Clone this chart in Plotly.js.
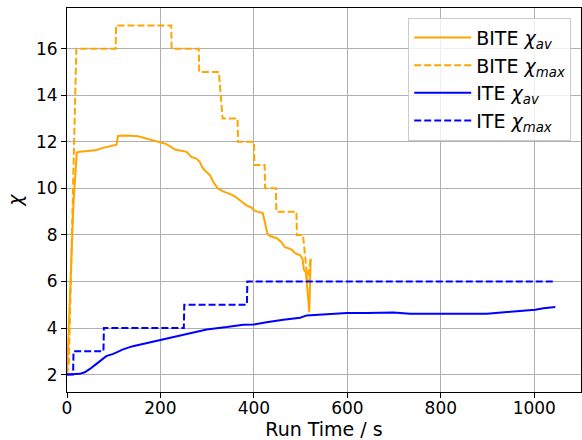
<!DOCTYPE html>
<html>
<head>
<meta charset="utf-8">
<script src="https://cdn.plot.ly/plotly-3.0.1.min.js"></script>
<style>html,body{margin:0;padding:0;background:#fff;}#chart{width:582px;height:440px;}</style>
</head>
<body>
<div id="chart"></div>
<script>
// BITE chi_av (run time in s, chi)
const biteAvT = [0,14,21,27,45,63,77,91,106,109,124,152,170,184,199,213,231,249,256,266,277,284,291,306,313,323,334,349,359,370,384,395,402,419,424,429,434,449,459,466,481,488,499,504,507,511,513,518.5,521.5];
const biteAv  = [2,9.4,11.54,11.57,11.61,11.65,11.74,11.82,11.88,12.25,12.27,12.24,12.14,12.04,11.98,11.9,11.67,11.61,11.57,11.35,11.28,11.14,10.85,10.56,10.27,9.99,9.87,9.75,9.66,9.49,9.27,9.17,9.03,8.94,8.48,8.05,7.95,7.86,7.69,7.48,7.37,7.22,7.12,6.98,6.5,6.4,6.0,4.68,6.98];
// BITE chi_max
const biteMaxT = [0,4,20,104,105,223,224,282,283,325,329,333,365,366,400,401,423,424,447,448,491,492,505,510,515,521.5];
const biteMax  = [2,2.5,16,16,17,17,16,16,15,15,14,13,13,12,12,11,11,10,10,9,9,8,8,7,6,7];
// ITE chi_av
const iteAvT = [0,27,38,49,63,74,84,99,120,141,163,199,242,270,299,342,377,400,427,463,499,513,556,599,642,699,734,770,820,899,956,1002,1020,1045];
const iteAv  = [2,2.03,2.1,2.24,2.46,2.65,2.79,2.89,3.08,3.22,3.32,3.46,3.65,3.79,3.94,4.04,4.14,4.15,4.25,4.35,4.44,4.54,4.58,4.64,4.64,4.67,4.61,4.61,4.6,4.61,4.71,4.78,4.85,4.9];
// ITE chi_max
const iteMaxT = [0,13,14,78,79,250,251,385,386,1043];
const iteMax  = [2,2,3,3,4,4,5,5,6,6];

const names = ['BITE <i>χ</i><sub><i>av</i></sub>','BITE <i>χ</i><sub><i>max</i></sub>','ITE <i>χ</i><sub><i>av</i></sub>','ITE <i>χ</i><sub><i>max</i></sub>'];
const xTicks = [0,200,400,600,800,1000];
const yTicks = [2,4,6,8,10,12,14,16];

const font = 'DejaVu Sans, sans-serif';
const traces = [
  {x: biteAvT, y: biteAv, name: names[0], mode:'lines', line:{color:'#FFA500', width:2}},
  {x: biteMaxT, y: biteMax, name: names[1], mode:'lines', line:{color:'#FFA500', width:2, dash:'7px,3px'}},
  {x: iteAvT, y: iteAv, name: names[2], mode:'lines', line:{color:'#0000FF', width:2}},
  {x: iteMaxT, y: iteMax, name: names[3], mode:'lines', line:{color:'#0000FF', width:2, dash:'7px,3px'}}
];
const axisCommon = {
  showgrid:true, gridcolor:'#b0b0b0', gridwidth:1,
  showline:true, linecolor:'#000', linewidth:1, mirror:true,
  ticks:'outside', ticklen:5, tickwidth:1, tickcolor:'#000',
  zeroline:false, automargin:false,
  tickfont:{family:font, size:17, color:'#000'}
};
const layout = {
  width:582, height:440,
  margin:{l:67, r:1, t:8, b:48},
  paper_bgcolor:'#fff', plot_bgcolor:'#fff',
  font:{family:font, color:'#000'},
  showlegend:true,
  legend:{x:0.981, y:0.975, xanchor:'right', yanchor:'top', itemwidth:57,
    bgcolor:'rgba(255,255,255,0.8)', bordercolor:'#cccccc', borderwidth:1,
    font:{family:font, size:19, color:'#000'}},
  xaxis:Object.assign({}, axisCommon, {range:[0,1100], tickvals:xTicks, ticklabelstandoff:-4,
    title:{text:'Run Time / s', font:{family:font, size:19, color:'#000'}, standoff:9}}),
  yaxis:Object.assign({}, axisCommon, {range:[1.25,17.75], tickvals:yTicks,
    title:{text:'<i>χ</i>', font:{family:font, size:19, color:'#000'}, standoff:8}})
};
Plotly.newPlot('chart', traces, layout, {displayModeBar:false, staticPlot:true});
</script>
</body>
</html>
